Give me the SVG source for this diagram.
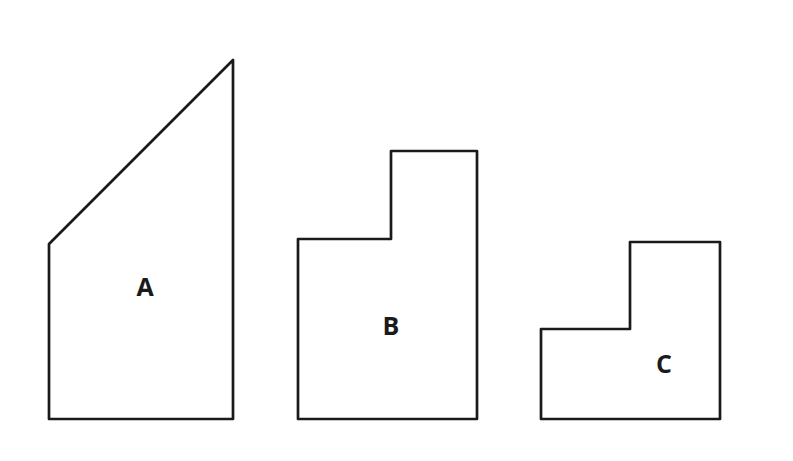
<svg xmlns="http://www.w3.org/2000/svg" width="793" height="461" viewBox="0 0 793 461">
<style>
.s{fill:none;stroke:#1a1a1a;stroke-width:2.7;stroke-linejoin:round}
.t{font-family:"Open Sans",sans-serif;font-weight:bold;font-size:25px;fill:#1a1a1a;text-anchor:middle}
</style>
<rect width="793" height="461" fill="#fff"/>
<g id="A"><polygon class="s" points="49,244 233,60 233,419 49,419"/><text class="t" x="145" y="296">A</text></g>
<g id="B"><polygon class="s" points="298,239 391,239 391,151 477,151 477,419 298,419"/><text class="t" x="391" y="335">B</text></g>
<g id="C"><polygon class="s" points="541,329 630,329 630,242 720,242 720,419 541,419"/><text class="t" x="664" y="373">C</text></g>
<g id="connectors"></g>
</svg>
